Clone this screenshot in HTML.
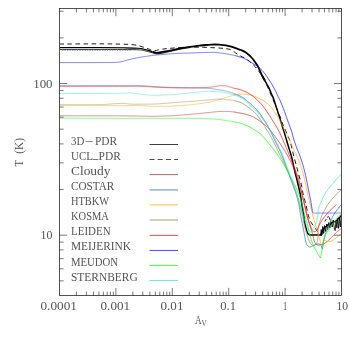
<!DOCTYPE html>
<html><head><meta charset="utf-8"><title>T vs Av</title>
<style>html,body{margin:0;padding:0;background:#fff;}body{width:349px;height:349px;overflow:hidden;font-family:"Liberation Serif",serif;}svg{display:block;}text{font-family:"Liberation Serif",serif;fill:#545454;}</style></head><body>
<svg width="349" height="349" viewBox="0 0 349 349">
<rect width="349" height="349" fill="#ffffff"/>
<defs><clipPath id="pc"><rect x="59.5" y="8.5" width="282" height="287"/></clipPath><filter id="bl" x="-5%" y="-5%" width="110%" height="110%"><feGaussianBlur stdDeviation="0.9"/></filter><filter id="bt" x="-5%" y="-5%" width="110%" height="110%"><feGaussianBlur stdDeviation="0.3"/></filter></defs>
<g clip-path="url(#pc)"><g fill="none" stroke-linejoin="round" stroke-linecap="butt">
<path d="M59.5 47.5 C65.92 47.5 87.08 47.45 98 47.5 C108.92 47.55 118.33 47.68 125 47.8 C131.67 47.92 134.87 47.97 138 48.2 C141.13 48.43 141.97 48.8 143.8 49.2 C145.63 49.6 147.47 50.13 149 50.6 C150.53 51.07 151.77 51.63 153 52 C154.23 52.37 155.83 52.67 156.4 52.8" stroke="#000000" stroke-width="1.15"/>
<path d="M153 52 C153.57 52.13 155.23 52.72 156.4 52.8 C157.57 52.88 158.57 52.72 160 52.5 C161.43 52.28 163.33 51.82 165 51.5 C166.67 51.18 168.17 50.97 170 50.6 C171.83 50.23 173.97 49.73 176 49.3 C178.03 48.87 179.87 48.4 182.2 48 C184.53 47.6 187.13 47.28 190 46.9 C192.87 46.52 196.73 46.02 199.4 45.7 C202.07 45.38 204 45.18 206 45 C208 44.82 209.9 44.68 211.4 44.6 C212.9 44.52 213.73 44.48 215 44.5 C216.27 44.52 217.57 44.58 219 44.7 C220.43 44.82 222.1 45 223.6 45.2 C225.1 45.4 226.57 45.62 228 45.9 C229.43 46.18 230.78 46.48 232.2 46.9 C233.62 47.32 235.07 47.88 236.5 48.4 C237.93 48.92 239.4 49.42 240.8 50 C242.2 50.58 243.62 51.13 244.9 51.9 C246.18 52.67 247.36 53.62 248.5 54.6 C249.64 55.58 250.75 56.65 251.75 57.75 C252.75 58.85 253.58 59.94 254.5 61.2 C255.42 62.46 256.38 63.78 257.25 65.3 C258.12 66.82 258.91 68.62 259.7 70.3 C260.49 71.98 261.13 73.68 262 75.4 C262.87 77.12 264.42 79.73 264.9 80.6" stroke="#000000" stroke-width="1.85"/>
<path d="M262 75.4 C262.48 76.27 263.75 78.52 264.9 80.6 C266.05 82.68 267.82 85.7 268.9 87.9 C269.98 90.1 270.65 92.08 271.4 93.8 C272.15 95.52 272.7 96.33 273.4 98.2 C274.1 100.07 274.83 102.62 275.6 105 C276.37 107.38 277.33 110.43 278 112.5 C278.67 114.57 278.95 115.32 279.6 117.4 C280.25 119.48 281.15 122.58 281.9 125 C282.65 127.42 283.31 129.32 284.1 131.9 C284.89 134.48 285.8 137.63 286.65 140.5 C287.5 143.37 288.56 146.98 289.2 149.1 C289.84 151.22 289.99 151.47 290.5 153.2 C291.01 154.93 291.63 156.91 292.25 159.5 C292.87 162.09 293.31 164.92 294.2 168.75 C295.09 172.58 296.6 178.29 297.6 182.5 C298.6 186.71 299.53 190.6 300.2 194 C300.87 197.4 301.01 199.27 301.6 202.9 C302.19 206.53 303.2 212.35 303.75 215.8 C304.3 219.25 304.47 221.37 304.9 223.6 C305.32 225.83 305.85 227.6 306.3 229.2 C306.75 230.8 307.12 232.25 307.6 233.2 C308.08 234.15 308.47 234.6 309.2 234.9 C309.93 235.2 309.87 234.98 312 235 C314.13 235.02 320.33 235 322 235" stroke="#000000" stroke-width="1.5"/>
<path d="M321 235 C321.23 234.43 321.87 232.8 322.4 231.6 C322.93 230.4 323.62 228.6 324.2 227.8 C324.78 227 325.28 227.31 325.9 226.8 C326.52 226.29 327.22 225.22 327.9 224.75 C328.58 224.28 329.19 224.41 330 224 C330.81 223.59 331.83 222.75 332.75 222.3 C333.67 221.85 334.58 221.92 335.5 221.3 C336.42 220.68 337.25 219.57 338.25 218.6 C339.25 217.63 340.96 216.02 341.5 215.5" stroke="#000000" stroke-width="1.35"/>
<path d="M320.5 235 L321.2 229.5 L322 234.8 L322.8 226.5 L323.7 233.5 L324.6 225.5 L325.6 231.5 L326.6 224 L327.7 229.5 L328.8 222.5 L329.9 228 L331 221.5 L332.2 227 L333.2 220 L334.5 229.5 L335.2 230.6 L336 220.5 L336.9 228 L337.6 218.5 L338.6 228.4 L339.3 217 L340.3 227 L341.2 215.5" stroke="#000000" stroke-width="0.85"/>
<path d="M59.5 49.6 C65.92 49.6 87.92 49.6 98 49.6 C108.08 49.6 113.33 49.57 120 49.6 C126.67 49.63 134 49.63 138 49.8 C142 49.97 142 50.22 144 50.6 C146 50.98 148.33 51.65 150 52.1 C151.67 52.55 152.83 53.02 154 53.3 C155.17 53.58 155.83 53.77 157 53.8 C158.17 53.83 159.5 53.73 161 53.5 C162.5 53.27 164.17 52.82 166 52.4 C167.83 51.98 170 51.47 172 51 C174 50.53 176 50.02 178 49.6 C180 49.18 182 48.83 184 48.5 C186 48.17 189 47.75 190 47.6" stroke="#000000" stroke-width="0.8"/>
<path d="M59.5 48.6 L138 48.9" stroke="#000000" stroke-width="1.3" stroke-opacity="0.22"/>
<path d="M62 50.5 L132 50.5" stroke="#000000" stroke-width="0.6" stroke-opacity="0.45" stroke-dasharray="1.2 1.3"/>
<path d="M59.5 44.05 C65.92 44.02 87.92 43.84 98 43.85 C108.08 43.86 114 43.94 120 44.1 C126 44.26 130.23 44.33 134 44.8 C137.77 45.27 140.27 46.23 142.6 46.9 C144.93 47.57 146.43 48.22 148 48.8 C149.57 49.38 150.67 50.1 152 50.4 C153.33 50.7 155 50.68 156 50.6 C157 50.52 156.22 50.23 158 49.9 C159.78 49.57 163.7 48.93 166.7 48.6 C169.7 48.27 172.45 48.12 176 47.9 C179.55 47.68 183.83 47.42 188 47.3 C192.17 47.18 196.5 47.12 201 47.2 C205.5 47.28 211.23 47.6 215 47.8 C218.77 48 221.43 48.2 223.6 48.4 C225.77 48.6 226.93 48.82 228 49 C229.07 49.18 229.2 49.2 230 49.5 C230.8 49.8 231.87 50.23 232.8 50.8 C233.73 51.37 234.57 52.18 235.6 52.9 C236.63 53.62 237.92 54.45 239 55.1 C240.08 55.75 240.83 56.17 242.1 56.8 C243.37 57.43 245.33 58.05 246.6 58.9 C247.87 59.75 248.67 60.98 249.7 61.9 C250.73 62.82 251.83 63.55 252.8 64.4 C253.77 65.25 254.63 66.07 255.5 67 C256.37 67.93 257.02 68.62 258 70 C258.98 71.38 260.07 73.05 261.4 75.3 C262.73 77.55 264.57 80.63 266 83.5 C267.43 86.37 268.67 89.42 270 92.5 C271.33 95.58 272.67 98.83 274 102 C275.33 105.17 276.83 108.67 278 111.5 C279.17 114.33 280.17 116.75 281 119 C281.83 121.25 282.2 123 283 125 C283.8 127 284.83 128.85 285.8 131 C286.77 133.15 287.98 135.8 288.8 137.9 C289.62 140 289.92 140.75 290.7 143.6 C291.48 146.45 292.37 150.62 293.5 155 C294.63 159.38 296.18 164.93 297.5 169.9 C298.82 174.87 300.47 180.78 301.4 184.8 C302.33 188.82 302.42 190.98 303.1 194 C303.78 197.02 304.6 199.27 305.5 202.9 C306.4 206.53 307.53 212.5 308.5 215.8 C309.47 219.1 310.12 220.54 311.3 222.7 C312.48 224.86 314.57 227.28 315.6 228.75 C316.63 230.22 317.02 230.91 317.5 231.5 C317.98 232.09 318.33 232.17 318.5 232.3" stroke="#111111" stroke-width="0.95" stroke-dasharray="4.6 3.4"/>
<path d="M324.8 221.4 L326.2 219.2" stroke="#111111" stroke-width="0.95" stroke-dasharray="none"/>
<path d="M327.2 217.4 L328.3 216.4 L329.3 217.6 L330.4 220.6" stroke="#111111" stroke-width="0.95" stroke-dasharray="none"/>
<path d="M59.5 115.8 C68.75 115.8 101.58 115.75 115 115.8 C128.42 115.85 133.7 116.02 140 116.1 C146.3 116.18 148.63 116.32 152.8 116.3 C156.97 116.28 161.3 116.12 165 116 C168.7 115.88 170.5 115.9 175 115.6 C179.5 115.3 186.33 114.72 192 114.2 C197.67 113.68 204.67 112.93 209 112.5 C213.33 112.07 215.07 111.78 218 111.6 C220.93 111.42 224 111.35 226.6 111.4 C229.2 111.45 232.43 111.82 233.6 111.9" stroke="#b42c2c" stroke-width="1.3" stroke-opacity="0.08"/>
<path d="M59.5 115.8 C68.75 115.8 101.58 115.75 115 115.8 C128.42 115.85 133.7 116.02 140 116.1 C146.3 116.18 148.63 116.32 152.8 116.3 C156.97 116.28 161.3 116.12 165 116 C168.7 115.88 170.5 115.9 175 115.6 C179.5 115.3 186.33 114.72 192 114.2 C197.67 113.68 204.67 112.93 209 112.5 C213.33 112.07 215.07 111.78 218 111.6 C220.93 111.42 224 111.35 226.6 111.4 C229.2 111.45 232.43 111.82 233.6 111.9" stroke="#b42c2c" stroke-width="0.4"/>
<path d="M233.6 111.9 C235.03 112.17 239.47 112.9 242.2 113.5 C244.93 114.1 247.98 114.82 250 115.5 C252.02 116.18 252.87 116.82 254.3 117.6 C255.73 118.38 257.17 119.23 258.6 120.2 C260.03 121.17 261.62 122.43 262.9 123.4 C264.18 124.37 264.85 124.57 266.3 126 C267.75 127.43 269.95 130 271.6 132 C273.25 134 274.73 136 276.2 138 C277.67 140 279.05 142 280.4 144 C281.75 146 283.07 148 284.3 150 C285.53 152 286.7 154 287.8 156 C288.9 158 289.93 160 290.9 162 C291.87 164 292.75 166 293.6 168 C294.45 170 295.27 172 296 174 C296.73 176 297.18 177.33 298 180 C298.82 182.67 300.03 186.67 300.9 190 C301.77 193.33 302.6 197.5 303.2 200 C303.8 202.5 303.95 202.67 304.5 205 C305.05 207.33 305.75 211 306.5 214 C307.25 217 308.12 220.12 309 223 C309.88 225.88 311.05 228.77 311.8 231.3 C312.55 233.83 312.93 236.22 313.5 238.2 C314.07 240.18 314.48 242.05 315.2 243.2 C315.92 244.35 317 244.82 317.8 245.1 C318.6 245.38 319.03 245.1 320 244.9 C320.97 244.7 322.28 244.57 323.6 243.9 C324.92 243.23 326.47 242.12 327.9 240.9 C329.33 239.68 330.77 238.03 332.2 236.6 C333.63 235.17 334.95 233.7 336.5 232.3 C338.05 230.9 340.67 228.88 341.5 228.2" stroke="#b42c2c" stroke-width="1.46" stroke-opacity="0.08"/>
<path d="M233.6 111.9 C235.03 112.17 239.47 112.9 242.2 113.5 C244.93 114.1 247.98 114.82 250 115.5 C252.02 116.18 252.87 116.82 254.3 117.6 C255.73 118.38 257.17 119.23 258.6 120.2 C260.03 121.17 261.62 122.43 262.9 123.4 C264.18 124.37 264.85 124.57 266.3 126 C267.75 127.43 269.95 130 271.6 132 C273.25 134 274.73 136 276.2 138 C277.67 140 279.05 142 280.4 144 C281.75 146 283.07 148 284.3 150 C285.53 152 286.7 154 287.8 156 C288.9 158 289.93 160 290.9 162 C291.87 164 292.75 166 293.6 168 C294.45 170 295.27 172 296 174 C296.73 176 297.18 177.33 298 180 C298.82 182.67 300.03 186.67 300.9 190 C301.77 193.33 302.6 197.5 303.2 200 C303.8 202.5 303.95 202.67 304.5 205 C305.05 207.33 305.75 211 306.5 214 C307.25 217 308.12 220.12 309 223 C309.88 225.88 311.05 228.77 311.8 231.3 C312.55 233.83 312.93 236.22 313.5 238.2 C314.07 240.18 314.48 242.05 315.2 243.2 C315.92 244.35 317 244.82 317.8 245.1 C318.6 245.38 319.03 245.1 320 244.9 C320.97 244.7 322.28 244.57 323.6 243.9 C324.92 243.23 326.47 242.12 327.9 240.9 C329.33 239.68 330.77 238.03 332.2 236.6 C333.63 235.17 334.95 233.7 336.5 232.3 C338.05 230.9 340.67 228.88 341.5 228.2" stroke="#b42c2c" stroke-width="0.56"/>
<path d="M59.5 85.5 C68.75 85.5 101.45 85.48 115 85.5 C128.55 85.52 133.63 85.38 140.8 85.6 C147.97 85.82 152.3 86.48 158 86.8 C163.7 87.12 169.33 87.33 175 87.5 C180.67 87.67 186.33 87.65 192 87.8 C197.67 87.95 204.67 88.1 209 88.4 C213.33 88.7 215.07 89.12 218 89.6 C220.93 90.08 224 90.67 226.6 91.3 C229.2 91.93 232.43 93.05 233.6 93.4" stroke="#3684b6" stroke-width="1.34" stroke-opacity="0.08"/>
<path d="M59.5 85.5 C68.75 85.5 101.45 85.48 115 85.5 C128.55 85.52 133.63 85.38 140.8 85.6 C147.97 85.82 152.3 86.48 158 86.8 C163.7 87.12 169.33 87.33 175 87.5 C180.67 87.67 186.33 87.65 192 87.8 C197.67 87.95 204.67 88.1 209 88.4 C213.33 88.7 215.07 89.12 218 89.6 C220.93 90.08 224 90.67 226.6 91.3 C229.2 91.93 232.43 93.05 233.6 93.4" stroke="#3684b6" stroke-width="0.44"/>
<path d="M233.6 93.4 C235.03 94.03 239.47 95.53 242.2 97.2 C244.93 98.87 247.98 101.72 250 103.4 C252.02 105.08 252.87 105.87 254.3 107.3 C255.73 108.73 257.17 110.22 258.6 112 C260.03 113.78 261.47 115.85 262.9 118 C264.33 120.15 265.98 122.8 267.2 124.9 C268.42 127 269.13 128.43 270.2 130.6 C271.27 132.77 272.47 135.53 273.6 137.9 C274.73 140.27 275.87 142.5 277 144.8 C278.13 147.1 279.33 149.33 280.4 151.7 C281.47 154.07 282.38 156.37 283.4 159 C284.42 161.63 285.4 164.5 286.5 167.5 C287.6 170.5 288.92 174.08 290 177 C291.08 179.92 292.07 182.5 293 185 C293.93 187.5 294.67 189.02 295.6 192 C296.53 194.98 297.77 199.07 298.6 202.9 C299.43 206.73 299.98 211.55 300.6 215 C301.22 218.45 301.73 220.73 302.3 223.6 C302.87 226.47 303.43 229.22 304 232.2 C304.57 235.18 305.17 239.28 305.75 241.5 C306.33 243.72 306.86 244.58 307.5 245.5 C308.14 246.42 308.6 247 309.6 247 C310.6 247 312.2 246.02 313.5 245.5 C314.8 244.98 316.28 244.1 317.4 243.9 C318.52 243.7 319.73 244.23 320.2 244.3" stroke="#3684b6" stroke-width="1.6" stroke-opacity="0.08"/>
<path d="M233.6 93.4 C235.03 94.03 239.47 95.53 242.2 97.2 C244.93 98.87 247.98 101.72 250 103.4 C252.02 105.08 252.87 105.87 254.3 107.3 C255.73 108.73 257.17 110.22 258.6 112 C260.03 113.78 261.47 115.85 262.9 118 C264.33 120.15 265.98 122.8 267.2 124.9 C268.42 127 269.13 128.43 270.2 130.6 C271.27 132.77 272.47 135.53 273.6 137.9 C274.73 140.27 275.87 142.5 277 144.8 C278.13 147.1 279.33 149.33 280.4 151.7 C281.47 154.07 282.38 156.37 283.4 159 C284.42 161.63 285.4 164.5 286.5 167.5 C287.6 170.5 288.92 174.08 290 177 C291.08 179.92 292.07 182.5 293 185 C293.93 187.5 294.67 189.02 295.6 192 C296.53 194.98 297.77 199.07 298.6 202.9 C299.43 206.73 299.98 211.55 300.6 215 C301.22 218.45 301.73 220.73 302.3 223.6 C302.87 226.47 303.43 229.22 304 232.2 C304.57 235.18 305.17 239.28 305.75 241.5 C306.33 243.72 306.86 244.58 307.5 245.5 C308.14 246.42 308.6 247 309.6 247 C310.6 247 312.2 246.02 313.5 245.5 C314.8 244.98 316.28 244.1 317.4 243.9 C318.52 243.7 319.73 244.23 320.2 244.3" stroke="#3684b6" stroke-width="0.7"/>
<path d="M320.2 244.3 L321.3 245.6 L322.3 249 L323.1 243.8 L323.9 239.6 L325.3 234.2" stroke="#3684b6" stroke-width="1.6" stroke-opacity="0.08"/>
<path d="M320.2 244.3 L321.3 245.6 L322.3 249 L323.1 243.8 L323.9 239.6 L325.3 234.2" stroke="#3684b6" stroke-width="0.7"/>
<path d="M325.3 234.2 C325.58 233.48 326.35 231.47 327 229.9 C327.65 228.33 328.48 226.52 329.2 224.8 C329.92 223.08 330.52 221.32 331.3 219.6 C332.08 217.88 332.88 216.22 333.9 214.5 C334.92 212.78 336.13 210.95 337.4 209.3 C338.67 207.65 340.82 205.38 341.5 204.6" stroke="#3684b6" stroke-width="1.6" stroke-opacity="0.08"/>
<path d="M325.3 234.2 C325.58 233.48 326.35 231.47 327 229.9 C327.65 228.33 328.48 226.52 329.2 224.8 C329.92 223.08 330.52 221.32 331.3 219.6 C332.08 217.88 332.88 216.22 333.9 214.5 C334.92 212.78 336.13 210.95 337.4 209.3 C338.67 207.65 340.82 205.38 341.5 204.6" stroke="#3684b6" stroke-width="0.7"/>
<path d="M59.5 105.6 C68.75 105.6 101.42 105.6 115 105.6 C128.58 105.6 134.7 105.48 141 105.6 C147.3 105.72 148.53 106.18 152.8 106.3 C157.07 106.42 162.9 106.37 166.6 106.3 C170.3 106.23 170.77 106.18 175 105.9 C179.23 105.62 186.33 105.22 192 104.6 C197.67 103.98 204.67 102.97 209 102.2 C213.33 101.43 215.07 100.82 218 100 C220.93 99.18 224 98.12 226.6 97.3 C229.2 96.48 232.43 95.47 233.6 95.1" stroke="#ffa514" stroke-width="1.3" stroke-opacity="0.08"/>
<path d="M59.5 105.6 C68.75 105.6 101.42 105.6 115 105.6 C128.58 105.6 134.7 105.48 141 105.6 C147.3 105.72 148.53 106.18 152.8 106.3 C157.07 106.42 162.9 106.37 166.6 106.3 C170.3 106.23 170.77 106.18 175 105.9 C179.23 105.62 186.33 105.22 192 104.6 C197.67 103.98 204.67 102.97 209 102.2 C213.33 101.43 215.07 100.82 218 100 C220.93 99.18 224 98.12 226.6 97.3 C229.2 96.48 232.43 95.47 233.6 95.1" stroke="#ffa514" stroke-width="0.4"/>
<path d="M233.6 95.1 C235.03 94.93 239.33 94.1 242.2 94.1 C245.07 94.1 248.5 94.62 250.8 95.1 C253.1 95.58 254.13 96.18 256 97 C257.87 97.82 260.13 98.93 262 100 C263.87 101.07 265.62 102.12 267.2 103.4 C268.78 104.68 270.07 105.98 271.5 107.7 C272.93 109.42 274.52 111.82 275.8 113.75 C277.08 115.68 278.13 117.39 279.2 119.3 C280.27 121.21 281.1 123 282.2 125.2 C283.3 127.4 284.6 130.03 285.8 132.5 C287 134.97 288.08 137.17 289.4 140 C290.72 142.83 292.22 146.33 293.7 149.5 C295.18 152.67 296.83 155.33 298.3 159 C299.77 162.67 301.33 167.58 302.5 171.5 C303.67 175.42 304.55 179.25 305.3 182.5 C306.05 185.75 306.32 187.88 307 191 C307.68 194.12 308.57 197.63 309.4 201.2 C310.23 204.77 311.1 208.82 312 212.4 C312.9 215.98 313.93 219.83 314.8 222.7 C315.67 225.57 316.57 227.58 317.2 229.6 C317.83 231.62 318.15 233.08 318.6 234.8 C319.05 236.52 319.47 238.4 319.9 239.9 C320.33 241.4 320.8 243.18 321.2 243.8 C321.6 244.42 321.75 244.15 322.3 243.6 C322.85 243.05 323.57 240.81 324.5 240.5 C325.43 240.19 326.62 241.68 327.9 241.75 C329.18 241.82 330.77 241.61 332.2 240.9 C333.63 240.19 334.95 238.75 336.5 237.5 C338.05 236.25 340.67 234.08 341.5 233.4" stroke="#ffa514" stroke-width="1.46" stroke-opacity="0.08"/>
<path d="M233.6 95.1 C235.03 94.93 239.33 94.1 242.2 94.1 C245.07 94.1 248.5 94.62 250.8 95.1 C253.1 95.58 254.13 96.18 256 97 C257.87 97.82 260.13 98.93 262 100 C263.87 101.07 265.62 102.12 267.2 103.4 C268.78 104.68 270.07 105.98 271.5 107.7 C272.93 109.42 274.52 111.82 275.8 113.75 C277.08 115.68 278.13 117.39 279.2 119.3 C280.27 121.21 281.1 123 282.2 125.2 C283.3 127.4 284.6 130.03 285.8 132.5 C287 134.97 288.08 137.17 289.4 140 C290.72 142.83 292.22 146.33 293.7 149.5 C295.18 152.67 296.83 155.33 298.3 159 C299.77 162.67 301.33 167.58 302.5 171.5 C303.67 175.42 304.55 179.25 305.3 182.5 C306.05 185.75 306.32 187.88 307 191 C307.68 194.12 308.57 197.63 309.4 201.2 C310.23 204.77 311.1 208.82 312 212.4 C312.9 215.98 313.93 219.83 314.8 222.7 C315.67 225.57 316.57 227.58 317.2 229.6 C317.83 231.62 318.15 233.08 318.6 234.8 C319.05 236.52 319.47 238.4 319.9 239.9 C320.33 241.4 320.8 243.18 321.2 243.8 C321.6 244.42 321.75 244.15 322.3 243.6 C322.85 243.05 323.57 240.81 324.5 240.5 C325.43 240.19 326.62 241.68 327.9 241.75 C329.18 241.82 330.77 241.61 332.2 240.9 C333.63 240.19 334.95 238.75 336.5 237.5 C338.05 236.25 340.67 234.08 341.5 233.4" stroke="#ffa514" stroke-width="0.56"/>
<path d="M59.5 104.6 C66.25 104.6 90.75 104.75 100 104.6 C109.25 104.45 111.07 103.9 115 103.7 C118.93 103.5 120.77 103.32 123.6 103.4 C126.43 103.48 129.1 104.07 132 104.2 C134.9 104.33 136.67 104.25 141 104.2 C145.33 104.15 152.33 104.18 158 103.9 C163.67 103.62 169.33 102.93 175 102.5 C180.67 102.07 186.33 101.73 192 101.3 C197.67 100.87 204.67 100.28 209 99.9 C213.33 99.52 215.07 99.05 218 99 C220.93 98.95 224 99.37 226.6 99.6 C229.2 99.83 232.43 100.27 233.6 100.4" stroke="#a09c64" stroke-width="1.34" stroke-opacity="0.08"/>
<path d="M59.5 104.6 C66.25 104.6 90.75 104.75 100 104.6 C109.25 104.45 111.07 103.9 115 103.7 C118.93 103.5 120.77 103.32 123.6 103.4 C126.43 103.48 129.1 104.07 132 104.2 C134.9 104.33 136.67 104.25 141 104.2 C145.33 104.15 152.33 104.18 158 103.9 C163.67 103.62 169.33 102.93 175 102.5 C180.67 102.07 186.33 101.73 192 101.3 C197.67 100.87 204.67 100.28 209 99.9 C213.33 99.52 215.07 99.05 218 99 C220.93 98.95 224 99.37 226.6 99.6 C229.2 99.83 232.43 100.27 233.6 100.4" stroke="#a09c64" stroke-width="0.44"/>
<path d="M233.6 100.4 C235.03 100.87 239.47 101.83 242.2 103.2 C244.93 104.57 247.98 107.13 250 108.6 C252.02 110.07 252.87 110.57 254.3 112 C255.73 113.43 257.17 115.33 258.6 117.2 C260.03 119.07 261.62 121.2 262.9 123.2 C264.18 125.2 265.35 127.62 266.3 129.2 C267.25 130.78 267.5 130.82 268.6 132.7 C269.7 134.58 271.47 137.77 272.9 140.5 C274.33 143.23 276.05 146.73 277.2 149.1 C278.35 151.47 278.83 152.72 279.8 154.7 C280.77 156.68 281.88 158.7 283 161 C284.12 163.3 285.33 165.92 286.5 168.5 C287.67 171.08 288.83 173.58 290 176.5 C291.17 179.42 292.47 183.17 293.5 186 C294.53 188.83 295.2 190.5 296.2 193.5 C297.2 196.5 298.48 200.42 299.5 204 C300.52 207.58 301.55 211.73 302.3 215 C303.05 218.27 303.35 220.73 304 223.6 C304.65 226.47 305.41 229.48 306.2 232.2 C306.99 234.92 307.98 237.97 308.75 239.9 C309.52 241.83 310.12 242.9 310.8 243.8 C311.48 244.7 312.18 245.05 312.8 245.3 C313.42 245.55 313.97 245.52 314.5 245.3 C315.03 245.08 315.53 244.63 316 244 C316.47 243.37 316.97 242.75 317.3 241.5 C317.63 240.25 317.85 238.58 318 236.5 C318.15 234.42 317.92 231.38 318.2 229 C318.48 226.62 319.08 224.48 319.7 222.2 C320.32 219.92 321.1 217.3 321.9 215.3 C322.7 213.3 323.5 212.03 324.5 210.2 C325.5 208.37 326.62 206.18 327.9 204.3 C329.18 202.42 330.77 200.58 332.2 198.9 C333.63 197.22 334.95 195.72 336.5 194.2 C338.05 192.68 340.67 190.53 341.5 189.8" stroke="#a09c64" stroke-width="1.6" stroke-opacity="0.08"/>
<path d="M233.6 100.4 C235.03 100.87 239.47 101.83 242.2 103.2 C244.93 104.57 247.98 107.13 250 108.6 C252.02 110.07 252.87 110.57 254.3 112 C255.73 113.43 257.17 115.33 258.6 117.2 C260.03 119.07 261.62 121.2 262.9 123.2 C264.18 125.2 265.35 127.62 266.3 129.2 C267.25 130.78 267.5 130.82 268.6 132.7 C269.7 134.58 271.47 137.77 272.9 140.5 C274.33 143.23 276.05 146.73 277.2 149.1 C278.35 151.47 278.83 152.72 279.8 154.7 C280.77 156.68 281.88 158.7 283 161 C284.12 163.3 285.33 165.92 286.5 168.5 C287.67 171.08 288.83 173.58 290 176.5 C291.17 179.42 292.47 183.17 293.5 186 C294.53 188.83 295.2 190.5 296.2 193.5 C297.2 196.5 298.48 200.42 299.5 204 C300.52 207.58 301.55 211.73 302.3 215 C303.05 218.27 303.35 220.73 304 223.6 C304.65 226.47 305.41 229.48 306.2 232.2 C306.99 234.92 307.98 237.97 308.75 239.9 C309.52 241.83 310.12 242.9 310.8 243.8 C311.48 244.7 312.18 245.05 312.8 245.3 C313.42 245.55 313.97 245.52 314.5 245.3 C315.03 245.08 315.53 244.63 316 244 C316.47 243.37 316.97 242.75 317.3 241.5 C317.63 240.25 317.85 238.58 318 236.5 C318.15 234.42 317.92 231.38 318.2 229 C318.48 226.62 319.08 224.48 319.7 222.2 C320.32 219.92 321.1 217.3 321.9 215.3 C322.7 213.3 323.5 212.03 324.5 210.2 C325.5 208.37 326.62 206.18 327.9 204.3 C329.18 202.42 330.77 200.58 332.2 198.9 C333.63 197.22 334.95 195.72 336.5 194.2 C338.05 192.68 340.67 190.53 341.5 189.8" stroke="#a09c64" stroke-width="0.7"/>
<path d="M59.5 86.5 C68.75 86.48 101.45 86.42 115 86.4 C128.55 86.38 133.63 86.25 140.8 86.4 C147.97 86.55 152.3 87.05 158 87.3 C163.7 87.55 169.3 87.8 175 87.9 C180.7 88 186.47 88 192.2 87.9 C197.93 87.8 205.43 87.57 209.4 87.3 C213.37 87.03 213.93 86.58 216 86.3 C218.07 86.02 219.97 85.62 221.8 85.6 C223.63 85.58 225.03 85.78 227 86.2 C228.97 86.62 232.5 87.78 233.6 88.1" stroke="#ff0000" stroke-width="1.3" stroke-opacity="0.08"/>
<path d="M59.5 86.5 C68.75 86.48 101.45 86.42 115 86.4 C128.55 86.38 133.63 86.25 140.8 86.4 C147.97 86.55 152.3 87.05 158 87.3 C163.7 87.55 169.3 87.8 175 87.9 C180.7 88 186.47 88 192.2 87.9 C197.93 87.8 205.43 87.57 209.4 87.3 C213.37 87.03 213.93 86.58 216 86.3 C218.07 86.02 219.97 85.62 221.8 85.6 C223.63 85.58 225.03 85.78 227 86.2 C228.97 86.62 232.5 87.78 233.6 88.1" stroke="#ff0000" stroke-width="0.4"/>
<path d="M233.6 88.1 C235.03 88.47 239.33 89.22 242.2 90.3 C245.07 91.38 248.28 92.98 250.8 94.6 C253.32 96.22 255.28 98.1 257.3 100 C259.32 101.9 261.25 104 262.9 106 C264.55 108 265.77 109.85 267.2 112 C268.63 114.15 270.12 116.73 271.5 118.9 C272.88 121.07 274.2 122.83 275.5 125 C276.8 127.17 278.08 129.47 279.3 131.9 C280.52 134.33 281.65 137.02 282.8 139.6 C283.95 142.18 285.18 144.97 286.2 147.4 C287.22 149.83 288.08 152.18 288.9 154.2 C289.72 156.22 290.27 157.45 291.1 159.5 C291.93 161.55 292.68 163.43 293.9 166.5 C295.12 169.57 297.18 173.98 298.4 177.9 C299.62 181.82 300.23 185.83 301.2 190 C302.17 194.17 303.23 198.73 304.2 202.9 C305.17 207.07 306.18 211.83 307 215 C307.82 218.17 308.4 219.75 309.1 221.9 C309.8 224.05 310.63 226.42 311.2 227.9 C311.77 229.38 311.98 230.15 312.5 230.8 C313.02 231.45 313.75 231.72 314.3 231.8 C314.85 231.88 315.28 231.73 315.8 231.3 C316.32 230.87 316.67 230.53 317.4 229.2 C318.13 227.87 319.17 225.18 320.2 223.3 C321.23 221.42 322.32 219.67 323.6 217.9 C324.88 216.13 326.47 214.27 327.9 212.7 C329.33 211.13 330.77 209.87 332.2 208.5 C333.63 207.13 335.78 205.17 336.5 204.5" stroke="#ff0000" stroke-width="1.46" stroke-opacity="0.08"/>
<path d="M233.6 88.1 C235.03 88.47 239.33 89.22 242.2 90.3 C245.07 91.38 248.28 92.98 250.8 94.6 C253.32 96.22 255.28 98.1 257.3 100 C259.32 101.9 261.25 104 262.9 106 C264.55 108 265.77 109.85 267.2 112 C268.63 114.15 270.12 116.73 271.5 118.9 C272.88 121.07 274.2 122.83 275.5 125 C276.8 127.17 278.08 129.47 279.3 131.9 C280.52 134.33 281.65 137.02 282.8 139.6 C283.95 142.18 285.18 144.97 286.2 147.4 C287.22 149.83 288.08 152.18 288.9 154.2 C289.72 156.22 290.27 157.45 291.1 159.5 C291.93 161.55 292.68 163.43 293.9 166.5 C295.12 169.57 297.18 173.98 298.4 177.9 C299.62 181.82 300.23 185.83 301.2 190 C302.17 194.17 303.23 198.73 304.2 202.9 C305.17 207.07 306.18 211.83 307 215 C307.82 218.17 308.4 219.75 309.1 221.9 C309.8 224.05 310.63 226.42 311.2 227.9 C311.77 229.38 311.98 230.15 312.5 230.8 C313.02 231.45 313.75 231.72 314.3 231.8 C314.85 231.88 315.28 231.73 315.8 231.3 C316.32 230.87 316.67 230.53 317.4 229.2 C318.13 227.87 319.17 225.18 320.2 223.3 C321.23 221.42 322.32 219.67 323.6 217.9 C324.88 216.13 326.47 214.27 327.9 212.7 C329.33 211.13 330.77 209.87 332.2 208.5 C333.63 207.13 335.78 205.17 336.5 204.5" stroke="#ff0000" stroke-width="0.56"/>
<path d="M59.5 62.6 C66.25 62.59 90.92 62.57 100 62.55 C109.08 62.52 110.83 62.53 114 62.45 C117.17 62.38 117.5 62.29 119 62.1 C120.5 61.91 121.17 61.75 123 61.3 C124.83 60.85 127.17 60.07 130 59.4 C132.83 58.73 136.67 57.9 140 57.3 C143.33 56.7 147.33 56.18 150 55.8 C152.67 55.42 153.5 55.25 156 55 C158.5 54.75 162.67 54.48 165 54.3 C167.33 54.12 167.17 54.08 170 53.9 C172.83 53.72 178.33 53.35 182 53.2 C185.67 53.05 189 53.1 192 53 C195 52.9 196.83 52.7 200 52.6 C203.17 52.5 208.5 52.43 211 52.4 C213.5 52.37 212.9 52.23 215 52.4 C217.1 52.57 221.43 53.12 223.6 53.4 C225.77 53.68 226.12 53.75 228 54.1 C229.88 54.45 233.75 55.27 234.9 55.5" stroke="#0000ff" stroke-width="1.3" stroke-opacity="0.08"/>
<path d="M59.5 62.6 C66.25 62.59 90.92 62.57 100 62.55 C109.08 62.52 110.83 62.53 114 62.45 C117.17 62.38 117.5 62.29 119 62.1 C120.5 61.91 121.17 61.75 123 61.3 C124.83 60.85 127.17 60.07 130 59.4 C132.83 58.73 136.67 57.9 140 57.3 C143.33 56.7 147.33 56.18 150 55.8 C152.67 55.42 153.5 55.25 156 55 C158.5 54.75 162.67 54.48 165 54.3 C167.33 54.12 167.17 54.08 170 53.9 C172.83 53.72 178.33 53.35 182 53.2 C185.67 53.05 189 53.1 192 53 C195 52.9 196.83 52.7 200 52.6 C203.17 52.5 208.5 52.43 211 52.4 C213.5 52.37 212.9 52.23 215 52.4 C217.1 52.57 221.43 53.12 223.6 53.4 C225.77 53.68 226.12 53.75 228 54.1 C229.88 54.45 233.75 55.27 234.9 55.5" stroke="#0000ff" stroke-width="0.4"/>
<path d="M234.9 55.5 C236.04 55.83 240.08 56.95 241.75 57.5 C243.42 58.05 243.78 58.27 244.9 58.8 C246.03 59.33 247.36 60.03 248.5 60.7 C249.64 61.37 250.67 62.13 251.75 62.8 C252.83 63.47 253.96 64.05 255 64.7 C256.04 65.35 256.83 65.75 258 66.7 C259.17 67.65 260.82 69.18 262 70.4 C263.18 71.62 264.02 72.57 265.1 74 C266.18 75.43 267.42 77.37 268.5 79 C269.58 80.63 270.39 81.75 271.6 83.8 C272.81 85.85 274.6 89.03 275.75 91.3 C276.9 93.57 277.81 95.95 278.5 97.4 C279.19 98.85 278.9 97.65 279.9 100 C280.9 102.35 283.07 107.68 284.5 111.5 C285.93 115.32 287.3 119.57 288.5 122.9 C289.7 126.23 290.84 128.82 291.7 131.5 C292.56 134.18 292.75 136.12 293.65 139 C294.55 141.88 296.11 146.13 297.1 148.8 C298.09 151.47 298.51 151.87 299.6 155 C300.69 158.13 302.4 163.02 303.65 167.6 C304.9 172.18 306.29 178.77 307.1 182.5 C307.91 186.23 307.92 187.03 308.5 190 C309.08 192.97 309.97 196.88 310.6 200.3 C311.23 203.72 312.02 208.8 312.3 210.5" stroke="#0000ff" stroke-width="1.46" stroke-opacity="0.08"/>
<path d="M234.9 55.5 C236.04 55.83 240.08 56.95 241.75 57.5 C243.42 58.05 243.78 58.27 244.9 58.8 C246.03 59.33 247.36 60.03 248.5 60.7 C249.64 61.37 250.67 62.13 251.75 62.8 C252.83 63.47 253.96 64.05 255 64.7 C256.04 65.35 256.83 65.75 258 66.7 C259.17 67.65 260.82 69.18 262 70.4 C263.18 71.62 264.02 72.57 265.1 74 C266.18 75.43 267.42 77.37 268.5 79 C269.58 80.63 270.39 81.75 271.6 83.8 C272.81 85.85 274.6 89.03 275.75 91.3 C276.9 93.57 277.81 95.95 278.5 97.4 C279.19 98.85 278.9 97.65 279.9 100 C280.9 102.35 283.07 107.68 284.5 111.5 C285.93 115.32 287.3 119.57 288.5 122.9 C289.7 126.23 290.84 128.82 291.7 131.5 C292.56 134.18 292.75 136.12 293.65 139 C294.55 141.88 296.11 146.13 297.1 148.8 C298.09 151.47 298.51 151.87 299.6 155 C300.69 158.13 302.4 163.02 303.65 167.6 C304.9 172.18 306.29 178.77 307.1 182.5 C307.91 186.23 307.92 187.03 308.5 190 C309.08 192.97 309.97 196.88 310.6 200.3 C311.23 203.72 312.02 208.8 312.3 210.5" stroke="#0000ff" stroke-width="0.56"/>
<path d="M312.3 210.5 L312.8 213.05 L341.5 213.05" stroke="#0000ff" stroke-width="1.32" stroke-opacity="0.04"/>
<path d="M312.3 210.5 L312.8 213.05 L341.5 213.05" stroke="#0000ff" stroke-width="0.42"/>
<path d="M59.5 118.2 C68.75 118.22 95.75 118.28 115 118.3 C134.25 118.32 162.17 118.3 175 118.3 C187.83 118.3 186.33 118.22 192 118.3 C197.67 118.38 204.67 118.62 209 118.8 C213.33 118.98 215.07 119.1 218 119.4 C220.93 119.7 224 120.23 226.6 120.6 C229.2 120.97 232.43 121.43 233.6 121.6" stroke="#00ff00" stroke-width="1.3" stroke-opacity="0.08"/>
<path d="M59.5 118.2 C68.75 118.22 95.75 118.28 115 118.3 C134.25 118.32 162.17 118.3 175 118.3 C187.83 118.3 186.33 118.22 192 118.3 C197.67 118.38 204.67 118.62 209 118.8 C213.33 118.98 215.07 119.1 218 119.4 C220.93 119.7 224 120.23 226.6 120.6 C229.2 120.97 232.43 121.43 233.6 121.6" stroke="#00ff00" stroke-width="0.4"/>
<path d="M233.6 121.6 C235.03 121.97 239.47 122.88 242.2 123.8 C244.93 124.72 247.87 126.02 250 127.1 C252.13 128.18 253.33 129.22 255 130.3 C256.67 131.38 258.45 132.33 260 133.6 C261.55 134.87 262.87 136.32 264.3 137.9 C265.73 139.48 267.17 141.32 268.6 143.1 C270.03 144.88 271.47 146.75 272.9 148.6 C274.33 150.45 275.88 152.38 277.2 154.2 C278.52 156.02 279.62 157.65 280.8 159.5 C281.98 161.35 282.68 162.42 284.3 165.3 C285.92 168.18 288.58 173.17 290.5 176.8 C292.42 180.43 294.45 184.23 295.8 187.1 C297.15 189.97 297.62 191.37 298.6 194 C299.58 196.63 300.68 199.42 301.7 202.9 C302.72 206.38 303.75 211.45 304.7 214.9 C305.65 218.35 306.72 221 307.4 223.6 C308.07 226.2 308.23 228.21 308.75 230.5 C309.27 232.79 309.79 235.02 310.5 237.35 C311.21 239.68 312 242.18 313 244.5 C314 246.82 315.5 249.38 316.5 251.3 C317.5 253.22 318.58 255.22 319 256" stroke="#00ff00" stroke-width="1.46" stroke-opacity="0.08"/>
<path d="M233.6 121.6 C235.03 121.97 239.47 122.88 242.2 123.8 C244.93 124.72 247.87 126.02 250 127.1 C252.13 128.18 253.33 129.22 255 130.3 C256.67 131.38 258.45 132.33 260 133.6 C261.55 134.87 262.87 136.32 264.3 137.9 C265.73 139.48 267.17 141.32 268.6 143.1 C270.03 144.88 271.47 146.75 272.9 148.6 C274.33 150.45 275.88 152.38 277.2 154.2 C278.52 156.02 279.62 157.65 280.8 159.5 C281.98 161.35 282.68 162.42 284.3 165.3 C285.92 168.18 288.58 173.17 290.5 176.8 C292.42 180.43 294.45 184.23 295.8 187.1 C297.15 189.97 297.62 191.37 298.6 194 C299.58 196.63 300.68 199.42 301.7 202.9 C302.72 206.38 303.75 211.45 304.7 214.9 C305.65 218.35 306.72 221 307.4 223.6 C308.07 226.2 308.23 228.21 308.75 230.5 C309.27 232.79 309.79 235.02 310.5 237.35 C311.21 239.68 312 242.18 313 244.5 C314 246.82 315.5 249.38 316.5 251.3 C317.5 253.22 318.58 255.22 319 256" stroke="#00ff00" stroke-width="0.56"/>
<path d="M319 256 L320.5 258 L322.4 248.5 L323.6 240.9 L325.3 234.9 L326.2 233.5" stroke="#00ff00" stroke-width="1.46" stroke-opacity="0.08"/>
<path d="M319 256 L320.5 258 L322.4 248.5 L323.6 240.9 L325.3 234.9 L326.2 233.5" stroke="#00ff00" stroke-width="0.56"/>
<path d="M326.2 233.5 C326.62 232.9 327.9 231.22 328.75 229.9 C329.6 228.58 330.29 227.03 331.3 225.6 C332.31 224.17 333.65 222.73 334.8 221.3 C335.95 219.87 337.08 218.33 338.2 217 C339.32 215.67 340.95 213.92 341.5 213.3" stroke="#00ff00" stroke-width="1.46" stroke-opacity="0.08"/>
<path d="M326.2 233.5 C326.62 232.9 327.9 231.22 328.75 229.9 C329.6 228.58 330.29 227.03 331.3 225.6 C332.31 224.17 333.65 222.73 334.8 221.3 C335.95 219.87 337.08 218.33 338.2 217 C339.32 215.67 340.95 213.92 341.5 213.3" stroke="#00ff00" stroke-width="0.56"/>
<path d="M59.5 93.5 C68.75 93.48 104.08 93.47 115 93.4 C125.92 93.33 122.13 93.17 125 93.1 C127.87 93.03 129.57 92.8 132.2 93 C134.83 93.2 137.37 93.92 140.8 94.3 C144.23 94.68 148.5 95.22 152.8 95.3 C157.1 95.38 162.9 94.95 166.6 94.8 C170.3 94.65 170.77 94.75 175 94.4 C179.23 94.05 187.7 93.12 192 92.7 C196.3 92.28 197.97 92.1 200.8 91.9 C203.63 91.7 206.13 91.53 209 91.5 C211.87 91.47 215.07 91.45 218 91.7 C220.93 91.95 224 92.48 226.6 93 C229.2 93.52 232.43 94.5 233.6 94.8" stroke="#40e0d0" stroke-width="1.3" stroke-opacity="0.08"/>
<path d="M59.5 93.5 C68.75 93.48 104.08 93.47 115 93.4 C125.92 93.33 122.13 93.17 125 93.1 C127.87 93.03 129.57 92.8 132.2 93 C134.83 93.2 137.37 93.92 140.8 94.3 C144.23 94.68 148.5 95.22 152.8 95.3 C157.1 95.38 162.9 94.95 166.6 94.8 C170.3 94.65 170.77 94.75 175 94.4 C179.23 94.05 187.7 93.12 192 92.7 C196.3 92.28 197.97 92.1 200.8 91.9 C203.63 91.7 206.13 91.53 209 91.5 C211.87 91.47 215.07 91.45 218 91.7 C220.93 91.95 224 92.48 226.6 93 C229.2 93.52 232.43 94.5 233.6 94.8" stroke="#40e0d0" stroke-width="0.4"/>
<path d="M233.6 94.8 C235.03 95.37 239.47 96.43 242.2 98.2 C244.93 99.97 247.98 103.63 250 105.4 C252.02 107.17 252.87 107.45 254.3 108.8 C255.73 110.15 257.17 111.77 258.6 113.5 C260.03 115.23 261.45 117.18 262.9 119.2 C264.35 121.22 265.98 123.58 267.3 125.6 C268.62 127.62 269.63 129.25 270.8 131.3 C271.97 133.35 273.13 135.65 274.3 137.9 C275.47 140.15 276.65 142.5 277.8 144.8 C278.95 147.1 280.13 149.33 281.2 151.7 C282.27 154.07 283.17 156.37 284.2 159 C285.23 161.63 286.27 164.42 287.4 167.5 C288.53 170.58 289.9 174.5 291 177.5 C292.1 180.5 293.07 183 294 185.5 C294.93 188 295.63 189.58 296.6 192.5 C297.57 195.42 298.82 199.58 299.8 203 C300.78 206.42 301.63 210 302.5 213 C303.37 216 304.17 218.58 305 221 C305.83 223.42 306.73 225.78 307.5 227.5 C308.27 229.22 309.02 230.65 309.6 231.3 C310.18 231.95 310.57 231.62 311 231.4 C311.43 231.18 311.65 230.73 312.2 230 C312.75 229.27 313.58 228.35 314.3 227 C315.02 225.65 315.95 223.73 316.5 221.9 C317.05 220.07 317.35 217.38 317.6 216 C317.85 214.62 317.87 214.73 318 213.6 C318.13 212.47 317.97 210.93 318.4 209.2 C318.83 207.47 319.73 205.35 320.6 203.2 C321.47 201.05 322.38 198.58 323.6 196.3 C324.82 194.02 326.47 191.5 327.9 189.5 C329.33 187.5 330.77 186.02 332.2 184.3 C333.63 182.58 334.95 180.93 336.5 179.2 C338.05 177.47 340.67 174.78 341.5 173.9" stroke="#40e0d0" stroke-width="1.46" stroke-opacity="0.08"/>
<path d="M233.6 94.8 C235.03 95.37 239.47 96.43 242.2 98.2 C244.93 99.97 247.98 103.63 250 105.4 C252.02 107.17 252.87 107.45 254.3 108.8 C255.73 110.15 257.17 111.77 258.6 113.5 C260.03 115.23 261.45 117.18 262.9 119.2 C264.35 121.22 265.98 123.58 267.3 125.6 C268.62 127.62 269.63 129.25 270.8 131.3 C271.97 133.35 273.13 135.65 274.3 137.9 C275.47 140.15 276.65 142.5 277.8 144.8 C278.95 147.1 280.13 149.33 281.2 151.7 C282.27 154.07 283.17 156.37 284.2 159 C285.23 161.63 286.27 164.42 287.4 167.5 C288.53 170.58 289.9 174.5 291 177.5 C292.1 180.5 293.07 183 294 185.5 C294.93 188 295.63 189.58 296.6 192.5 C297.57 195.42 298.82 199.58 299.8 203 C300.78 206.42 301.63 210 302.5 213 C303.37 216 304.17 218.58 305 221 C305.83 223.42 306.73 225.78 307.5 227.5 C308.27 229.22 309.02 230.65 309.6 231.3 C310.18 231.95 310.57 231.62 311 231.4 C311.43 231.18 311.65 230.73 312.2 230 C312.75 229.27 313.58 228.35 314.3 227 C315.02 225.65 315.95 223.73 316.5 221.9 C317.05 220.07 317.35 217.38 317.6 216 C317.85 214.62 317.87 214.73 318 213.6 C318.13 212.47 317.97 210.93 318.4 209.2 C318.83 207.47 319.73 205.35 320.6 203.2 C321.47 201.05 322.38 198.58 323.6 196.3 C324.82 194.02 326.47 191.5 327.9 189.5 C329.33 187.5 330.77 186.02 332.2 184.3 C333.63 182.58 334.95 180.93 336.5 179.2 C338.05 177.47 340.67 174.78 341.5 173.9" stroke="#40e0d0" stroke-width="0.56"/>
</g></g>
<path d="M76.48 295.5v-3.9M76.48 8.5v3.9M86.41 295.5v-3.9M86.41 8.5v3.9M93.46 295.5v-3.9M93.46 8.5v3.9M98.92 295.5v-3.9M98.92 8.5v3.9M103.39 295.5v-3.9M103.39 8.5v3.9M107.16 295.5v-3.9M107.16 8.5v3.9M110.43 295.5v-3.9M110.43 8.5v3.9M113.32 295.5v-3.9M113.32 8.5v3.9M115.9 295.5v-7.6M115.9 8.5v7.6M132.88 295.5v-3.9M132.88 8.5v3.9M142.81 295.5v-3.9M142.81 8.5v3.9M149.86 295.5v-3.9M149.86 8.5v3.9M155.32 295.5v-3.9M155.32 8.5v3.9M159.79 295.5v-3.9M159.79 8.5v3.9M163.56 295.5v-3.9M163.56 8.5v3.9M166.83 295.5v-3.9M166.83 8.5v3.9M169.72 295.5v-3.9M169.72 8.5v3.9M172.3 295.5v-7.6M172.3 8.5v7.6M189.28 295.5v-3.9M189.28 8.5v3.9M199.21 295.5v-3.9M199.21 8.5v3.9M206.26 295.5v-3.9M206.26 8.5v3.9M211.72 295.5v-3.9M211.72 8.5v3.9M216.19 295.5v-3.9M216.19 8.5v3.9M219.96 295.5v-3.9M219.96 8.5v3.9M223.23 295.5v-3.9M223.23 8.5v3.9M226.12 295.5v-3.9M226.12 8.5v3.9M228.7 295.5v-7.6M228.7 8.5v7.6M245.68 295.5v-3.9M245.68 8.5v3.9M255.61 295.5v-3.9M255.61 8.5v3.9M262.66 295.5v-3.9M262.66 8.5v3.9M268.12 295.5v-3.9M268.12 8.5v3.9M272.59 295.5v-3.9M272.59 8.5v3.9M276.36 295.5v-3.9M276.36 8.5v3.9M279.63 295.5v-3.9M279.63 8.5v3.9M282.52 295.5v-3.9M282.52 8.5v3.9M285.1 295.5v-7.6M285.1 8.5v7.6M302.08 295.5v-3.9M302.08 8.5v3.9M312.01 295.5v-3.9M312.01 8.5v3.9M319.06 295.5v-3.9M319.06 8.5v3.9M324.52 295.5v-3.9M324.52 8.5v3.9M328.99 295.5v-3.9M328.99 8.5v3.9M332.76 295.5v-3.9M332.76 8.5v3.9M336.03 295.5v-3.9M336.03 8.5v3.9M338.92 295.5v-3.9M338.92 8.5v3.9M59.5 280.85h4.1M341.5 280.85h-4.1M59.5 268.84h4.1M341.5 268.84h-4.1M59.5 258.69h4.1M341.5 258.69h-4.1M59.5 249.9h4.1M341.5 249.9h-4.1M59.5 242.14h4.1M341.5 242.14h-4.1M59.5 235.2h7.6M341.5 235.2h-7.6M59.5 189.55h4.1M341.5 189.55h-4.1M59.5 162.84h4.1M341.5 162.84h-4.1M59.5 143.9h4.1M341.5 143.9h-4.1M59.5 129.2h4.1M341.5 129.2h-4.1M59.5 117.19h4.1M341.5 117.19h-4.1M59.5 107.04h4.1M341.5 107.04h-4.1M59.5 98.25h4.1M341.5 98.25h-4.1M59.5 90.49h4.1M341.5 90.49h-4.1M59.5 83.55h7.6M341.5 83.55h-7.6M59.5 37.9h4.1M341.5 37.9h-4.1M59.5 11.19h4.1M341.5 11.19h-4.1" stroke="#262626" stroke-width="0.62" fill="none"/>
<rect x="59.5" y="8.5" width="282" height="287" fill="none" stroke="#1e1e1e" stroke-width="0.76"/>
<g filter="url(#bt)">
<text x="71.1" y="144.9" font-size="12" textLength="13.3" lengthAdjust="spacingAndGlyphs">3D</text>
<path d="M85.7 141.45h7" stroke="#545454" stroke-width="0.72"/>
<text x="94.9" y="144.9" font-size="12" textLength="22.3" lengthAdjust="spacingAndGlyphs">PDR</text>
<path d="M149.5 144.5H178" fill="none" stroke="#000000" stroke-width="0.75"/>
<text x="71" y="159.98" font-size="12" textLength="21.9" lengthAdjust="spacingAndGlyphs">UCL</text>
<path d="M92.6 159.53h5.8" stroke="#545454" stroke-width="0.8"/>
<text x="98.6" y="159.98" font-size="12" textLength="22.2" lengthAdjust="spacingAndGlyphs">PDR</text>
<path d="M149.5 159.5H178" fill="none" stroke="#111111" stroke-width="0.75" stroke-dasharray="5 3.2"/>
<text x="71" y="175.06" font-size="12" textLength="39.4" lengthAdjust="spacingAndGlyphs">Cloudy</text>
<path d="M149.5 174.55H178" fill="none" stroke="#b42c2c" stroke-width="0.72"/>
<text x="71" y="190.14" font-size="12" textLength="43.3" lengthAdjust="spacingAndGlyphs">COSTAR</text>
<path d="M149.5 189.95H178" fill="none" stroke="#3d85b0" stroke-width="0.9"/>
<text x="71" y="205.22" font-size="12" textLength="38" lengthAdjust="spacingAndGlyphs">HTBKW</text>
<path d="M149.5 204.9H178" fill="none" stroke="#ffa514" stroke-width="0.72"/>
<text x="71" y="220.3" font-size="12" textLength="37.9" lengthAdjust="spacingAndGlyphs">KOSMA</text>
<path d="M149.5 220H178" fill="none" stroke="#808040" stroke-width="0.72"/>
<text x="71" y="235.38" font-size="12" textLength="39.6" lengthAdjust="spacingAndGlyphs">LEIDEN</text>
<path d="M149.5 235.4H178" fill="none" stroke="#ff0000" stroke-width="0.72"/>
<text x="71" y="250.46" font-size="12" textLength="60" lengthAdjust="spacingAndGlyphs">MEIJERINK</text>
<path d="M149.5 250.45H178" fill="none" stroke="#0000ff" stroke-width="0.72"/>
<text x="71" y="265.54" font-size="12" textLength="47" lengthAdjust="spacingAndGlyphs">MEUDON</text>
<path d="M149.5 265.45H178" fill="none" stroke="#00ff00" stroke-width="0.72"/>
<text x="71" y="280.62" font-size="12" textLength="66.7" lengthAdjust="spacingAndGlyphs">STERNBERG</text>
<path d="M149.5 280.5H178" fill="none" stroke="#40e0d0" stroke-width="0.72"/>
<text x="58.7" y="310" font-size="12" text-anchor="middle" textLength="36.4" lengthAdjust="spacingAndGlyphs">0.0001</text>
<text x="115.3" y="310" font-size="12" text-anchor="middle" textLength="29.5" lengthAdjust="spacingAndGlyphs">0.001</text>
<text x="172" y="310" font-size="12" text-anchor="middle" textLength="22.9" lengthAdjust="spacingAndGlyphs">0.01</text>
<text x="228.1" y="310" font-size="12" text-anchor="middle" textLength="15.8" lengthAdjust="spacingAndGlyphs">0.1</text>
<text x="285" y="310" font-size="12" text-anchor="middle" textLength="4.2" lengthAdjust="spacingAndGlyphs">1</text>
<text x="342.2" y="310" font-size="12" text-anchor="middle" textLength="11.6" lengthAdjust="spacingAndGlyphs">10</text>
<text x="52.6" y="87.7" font-size="12" text-anchor="end" textLength="19.4" lengthAdjust="spacingAndGlyphs">100</text>
<text x="52.5" y="239.4" font-size="12" text-anchor="end" textLength="11.9" lengthAdjust="spacingAndGlyphs">10</text>
<text x="195" y="323.9" font-size="12" textLength="6.6" lengthAdjust="spacingAndGlyphs">A</text>
<text x="201.5" y="326.2" font-size="8" textLength="5.2" lengthAdjust="spacingAndGlyphs">V</text>
<g transform="translate(22.9 166.6) rotate(-90)"><text x="0" y="0" font-size="12" textLength="6.5" lengthAdjust="spacingAndGlyphs">T</text><text x="12.9" y="0" font-size="12" textLength="15.8" lengthAdjust="spacingAndGlyphs">(K)</text></g>
</g>
</svg></body></html>
